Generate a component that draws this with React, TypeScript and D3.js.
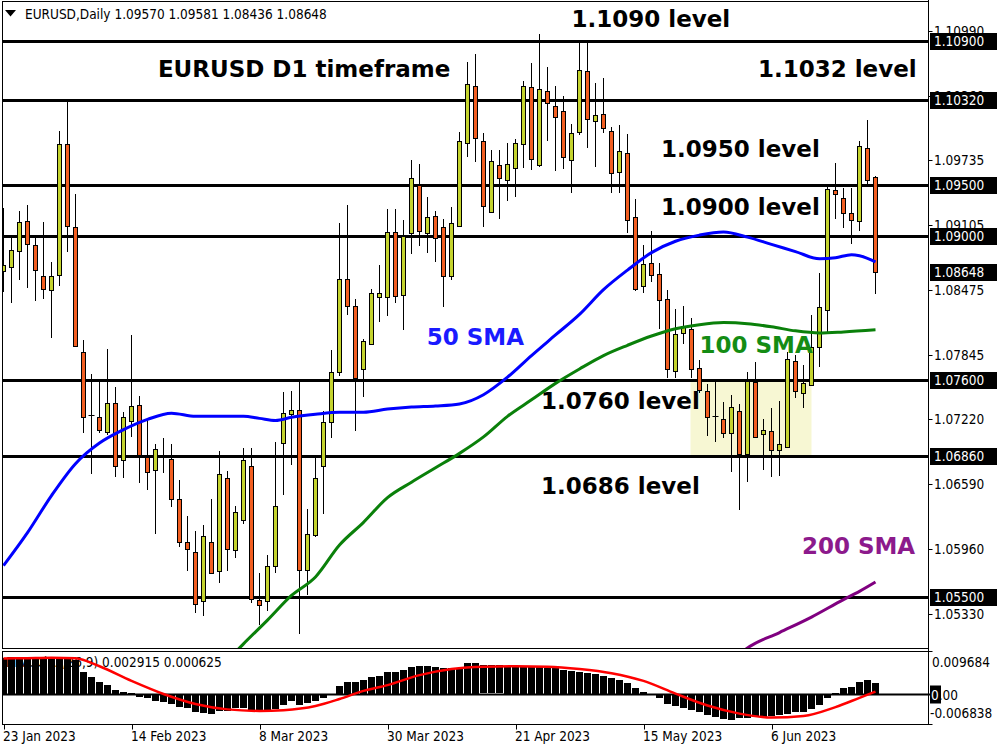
import React from "react";
import * as d3 from "d3";

// ---------------- data ----------------
const symbolTitle = "EURUSD,Daily";
const lastBarOHLC = ["1.09570", "1.09581", "1.08436", "1.08648"];
const macdTitle = "MACD(12,26,9) 0.002915 0.000625";

const opens = [
  1.0866, 1.087, 1.0886, 1.0915, 1.0891, 1.0861, 1.0848, 1.0862, 1.0989, 1.0909,
  1.0787, 1.0726, 1.0724, 1.071, 1.0738, 1.0683, 1.072, 1.0736, 1.0685, 1.0673,
  1.0685, 1.0684, 1.0645, 1.0603, 1.0593, 1.0546, 1.0603, 1.0575, 1.0665, 1.0595,
  1.0624, 1.0677, 1.0547, 1.0546, 1.058, 1.0699, 1.0727, 1.0731, 1.0576, 1.061,
  1.0677, 1.0719, 1.0768, 1.0858, 1.0832, 1.0771, 1.0795, 1.0841, 1.0841, 1.0904,
  1.0843, 1.0903, 1.095, 1.0903, 1.092, 1.0909, 1.0861, 1.091, 1.099, 1.1046,
  1.0992, 1.0923, 1.0969, 1.0955, 1.0966, 1.0989, 1.1045, 1.0969, 1.1041, 1.1026,
  1.1022, 1.0974, 1.1001, 1.106, 1.1012, 1.1019, 1.1002, 1.0962, 1.0981, 1.0919,
  1.0852, 1.0874, 1.0863, 1.0839, 1.0769, 1.0806, 1.081, 1.0772, 1.075, 1.0725,
  1.0722, 1.0709, 1.073, 1.0688, 1.0758, 1.0708, 1.0711, 1.0692, 1.0695, 1.0779,
  1.0748, 1.0755, 1.0792, 1.0828, 1.0945, 1.0937, 1.0922, 1.0915, 1.0986, 1.0957,
];
const highs = [
  1.0927, 1.0898, 1.0924, 1.093, 1.09, 1.0914, 1.0875, 1.1002, 1.1031, 1.0941,
  1.0799, 1.0766, 1.0759, 1.079, 1.0753, 1.0729, 1.0804, 1.0745, 1.0721, 1.0698,
  1.0704, 1.0698, 1.0663, 1.0628, 1.0614, 1.0619, 1.0645, 1.0691, 1.0672, 1.0638,
  1.0694, 1.0694, 1.0573, 1.059, 1.07, 1.0749, 1.075, 1.076, 1.0635, 1.0686,
  1.073, 1.0789, 1.0913, 1.093, 1.0839, 1.08, 1.0849, 1.0872, 1.0926, 1.0926,
  1.0916, 1.0974, 1.097, 1.0938, 1.0924, 1.0917, 1.0928, 1.1001, 1.1069, 1.1077,
  1.1, 1.0984, 1.0984, 1.099, 1.0994, 1.1051, 1.1068, 1.1096, 1.1064, 1.1046,
  1.1036, 1.1009, 1.1089, 1.1089, 1.1049, 1.1054, 1.1006, 1.1008, 1.0999, 1.0936,
  1.0891, 1.0905, 1.0874, 1.0848, 1.0829, 1.0832, 1.082, 1.078, 1.0756, 1.0759,
  1.0739, 1.0746, 1.0737, 1.0768, 1.0778, 1.0722, 1.0733, 1.074, 1.0787, 1.0785,
  1.0775, 1.0823, 1.0864, 1.095, 1.0971, 1.0947, 1.0947, 1.0992, 1.1013, 1.09581,
];
const lows = [
  1.0846, 1.0835, 1.0857, 1.085, 1.0837, 1.0839, 1.0801, 1.0852, 1.0885, 1.0792,
  1.0709, 1.0669, 1.0709, 1.0707, 1.0666, 1.0665, 1.0705, 1.066, 1.0653, 1.0611,
  1.067, 1.0637, 1.0598, 1.0575, 1.0534, 1.0531, 1.0572, 1.0563, 1.0575, 1.0587,
  1.062, 1.0544, 1.0522, 1.0536, 1.0573, 1.0649, 1.0678, 1.0514, 1.0551, 1.0608,
  1.063, 1.0704, 1.0764, 1.0823, 1.0711, 1.0744, 1.0794, 1.0817, 1.0822, 1.0835,
  1.0809, 1.0883, 1.089, 1.0884, 1.0875, 1.0831, 1.0857, 1.0909, 1.0977, 1.0972,
  1.0909, 1.0922, 1.0917, 1.0934, 1.0938, 1.0966, 1.0964, 1.0967, 1.0992, 1.0963,
  1.0965, 1.0942, 1.0998, 1.0986, 1.0967, 1.1, 1.0942, 1.0942, 1.0903, 1.0847,
  1.0845, 1.0855, 1.081, 1.0762, 1.0762, 1.0795, 1.0762, 1.0748, 1.0706, 1.07,
  1.0704, 1.0671, 1.0634, 1.0661, 1.0704, 1.0673, 1.0666, 1.0667, 1.0694, 1.0743,
  1.0733, 1.0754, 1.0773, 1.0807, 1.0917, 1.0908, 1.0892, 1.0905, 1.0949, 1.08436,
];
const closes = [
  1.0872, 1.0887, 1.0914, 1.0892, 1.0867, 1.0849, 1.0861, 1.0989, 1.091, 1.0793,
  1.0724, 1.0726, 1.0712, 1.0738, 1.0677, 1.0724, 1.0735, 1.0687, 1.0671, 1.0693,
  1.0685, 1.0645, 1.0603, 1.0596, 1.0543, 1.0609, 1.0573, 1.0669, 1.0596, 1.0632,
  1.0683, 1.0548, 1.0542, 1.058, 1.0638, 1.0728, 1.0731, 1.0576, 1.0611, 1.0665,
  1.0719, 1.0768, 1.0858, 1.0832, 1.0762, 1.0798, 1.0845, 1.0845, 1.0904, 1.0842,
  1.09, 1.0956, 1.0905, 1.0919, 1.0898, 1.0861, 1.0913, 1.0992, 1.1048, 1.0995,
  1.0929, 1.0973, 1.0956, 1.097, 1.099, 1.1046, 1.0975, 1.1043, 1.1029, 1.1016,
  1.0977, 1.1, 1.1061, 1.1014, 1.1018, 1.1005, 1.0961, 1.0983, 1.0916, 1.0849,
  1.0873, 1.0862, 1.0838, 1.0771, 1.0805, 1.0813, 1.0771, 1.0751, 1.0724, 1.0725,
  1.0709, 1.0734, 1.0688, 1.0759, 1.0705, 1.0712, 1.0692, 1.0698, 1.0781, 1.075,
  1.0757, 1.0792, 1.0831, 1.0946, 1.0941, 1.0922, 1.0916, 1.0988, 1.0955, 1.08648,
];

// moving averages: [bar index, value]
const sma50: [number, number][] = [
  [0, 1.058], [3, 1.0612], [6, 1.0648], [9, 1.0679], [12, 1.0699], [15, 1.0712], [18, 1.0722],
  [21, 1.0728], [24, 1.0725], [27, 1.0725], [30, 1.0725], [32, 1.0723], [34, 1.0721],
  [36, 1.0724], [39, 1.0727], [42, 1.0729], [45, 1.0729], [48, 1.0732], [51, 1.0734],
  [54, 1.0735], [57, 1.0737], [60, 1.0746], [63, 1.0763], [66, 1.0784], [69, 1.0804],
  [72, 1.0824], [75, 1.0848], [78, 1.0867], [81, 1.0884], [84, 1.0895], [87, 1.0901],
  [90, 1.0904], [93, 1.0899], [96, 1.0892], [99, 1.0885], [102, 1.0878], [104, 1.0879],
  [106, 1.0882], [107, 1.0881], [109, 1.0875],
];
const sma100: [number, number][] = [
  [28, 1.0488], [30, 1.0504], [33, 1.0527], [36, 1.0551], [39, 1.0569], [42, 1.06],
  [45, 1.0622], [48, 1.0646], [51, 1.0661], [54, 1.0675], [57, 1.0689], [60, 1.0705],
  [63, 1.0725], [66, 1.0741], [69, 1.0757], [72, 1.0771], [75, 1.0784], [78, 1.0794],
  [81, 1.0803], [84, 1.081], [87, 1.0814], [90, 1.0816], [93, 1.0815], [96, 1.0812],
  [99, 1.0808], [102, 1.0806], [105, 1.0807], [109, 1.0809],
];
const sma200: [number, number][] = [
  [92, 1.0494], [93, 1.05], [97, 1.0515], [101, 1.053], [105, 1.0547], [107, 1.0555], [109, 1.0564],
];

const macdMain = [
  0.0093, 0.0096, 0.0096, 0.0095, 0.0094, 0.0092, 0.0091, 0.0093, 0.009684, 0.0088,
  0.0058, 0.0043, 0.0031, 0.0023, 0.001, 0.0005, 0.0002, -0.0007, -0.0011, -0.0017,
  -0.002, -0.0025, -0.0033, -0.0037, -0.0048, -0.005, -0.0052, -0.0045, -0.0043, -0.0037,
  -0.0037, -0.0042, -0.0042, -0.0042, -0.0039, -0.0029, -0.0018, -0.0029, -0.0024, -0.0017,
  -0.001, -0.0003, 0.0021, 0.003, 0.003, 0.0036, 0.0043, 0.0046, 0.0056, 0.0056,
  0.0062, 0.0069, 0.0073, 0.0073, 0.0069, 0.0067, 0.0067, 0.0067, 0.008, 0.008,
  0.0074, 0.0074, 0.0074, 0.0071, 0.0071, 0.0072, 0.0071, 0.0071, 0.0068, 0.0067,
  0.0062, 0.006, 0.0058, 0.0054, 0.0051, 0.0048, 0.0041, 0.0036, 0.0028, 0.0015,
  0.0004, -0.0003, -0.0011, -0.0026, -0.003, -0.0037, -0.0042, -0.0048, -0.0055, -0.0059,
  -0.0066, -0.006838, -0.0062, -0.0062, -0.0059, -0.0059, -0.0057, -0.0055, -0.0053, -0.0048,
  -0.0046, -0.0039, -0.0029, -0.001, 0.0003, 0.0015, 0.0019, 0.003, 0.0036, 0.002915,
];
const macdSignal: [number, number][] = [
  [0, 0.0092], [3, 0.0093], [6, 0.0094], [9, 0.0093], [12, 0.0072], [16, 0.0034], [20, 0.0],
  [24, -0.0026], [28, -0.004], [32, -0.0044], [35, -0.0042], [39, -0.0031], [42, -0.0013],
  [45, 0.0008], [48, 0.0023], [52, 0.0049], [56, 0.0065], [60, 0.0071], [64, 0.0072],
  [68, 0.0071], [72, 0.0065], [76, 0.0054], [80, 0.0034], [84, 0.0001], [88, -0.003],
  [92, -0.0051], [96, -0.0061], [100, -0.0057], [104, -0.0034], [107, -0.001], [109, 0.000625],
];

const levels = [1.109, 1.1032, 1.095, 1.09, 1.076, 1.0686, 1.055];
const priceTicks = [1.1099, 1.1036, 1.09735, 1.09105, 1.08475, 1.07845, 1.0722, 1.0659, 1.0596, 1.0533];
const lastPrice = 1.08648;
const macdMax = 0.009684;
const macdMin = -0.006838;
const dateTicks: [number, string][] = [
  [0, "23 Jan 2023"], [16, "14 Feb 2023"], [32, "8 Mar 2023"], [48, "30 Mar 2023"],
  [64, "21 Apr 2023"], [80, "15 May 2023"], [96, "6 Jun 2023"],
];
const zoneBars: [number, number] = [86, 101];
const zonePrices: [number, number] = [1.076, 1.0686];

// annotation text anchored at (bar, price) of its baseline start
const annotations: { text: string; price: number; bar: number; color: string }[] = [
  { text: "1.1090 level", price: 1.11027, bar: 71, color: "#000" },
  { text: "EURUSD D1 timeframe", price: 1.10542, bar: 19.3, color: "#000" },
  { text: "1.1032 level", price: 1.10542, bar: 94.3, color: "#000" },
  { text: "1.0950 level", price: 1.09765, bar: 82.2, color: "#000" },
  { text: "1.0900 level", price: 1.09201, bar: 82.2, color: "#000" },
  { text: "50 SMA", price: 1.07939, bar: 52.9, color: "#1a1aff" },
  { text: "100 SMA", price: 1.07861, bar: 87, color: "#148c14" },
  { text: "1.0760 level", price: 1.07317, bar: 67.2, color: "#000" },
  { text: "1.0686 level", price: 1.06492, bar: 67.2, color: "#000" },
  { text: "200 SMA", price: 1.05909, bar: 99.8, color: "#8c1a8c" },
];

// ---------------- styles ----------------
const BULL = "#c4d32e";
const BEAR = "#f25e21";
const SMALL = "'DejaVu Sans Condensed','DejaVu Sans',sans-serif";
const BIG = "'DejaVu Sans',Verdana,sans-serif";

export default function App() {
  const x = d3.scaleLinear().domain([0, 109]).range([3.5, 875.5]);
  const y = d3.scaleLinear().domain([1.055, 1.109]).range([596.5, 40.5]);
  const ym = d3.scaleLinear().domain([macdMin, macdMax]).range([720.3, 656.7]);
  const px = (v: number) => Math.round(v) + 0.5;

  const maLine = d3
    .line<[number, number]>()
    .x((d) => x(d[0]))
    .y((d) => y(d[1]))
    .curve(d3.curveMonotoneX);
  const sigLine = d3
    .line<[number, number]>()
    .x((d) => x(d[0]))
    .y((d) => ym(d[1]))
    .curve(d3.curveMonotoneX);

  const left = 2.5;
  const right = 928.5;
  const mainTop = 1.5;
  const mainBottom = 648.5;
  const subTop = 651.5;
  const subBottom = 724.5;
  const zero = px(ym(0));

  return (
    <svg
      width={1000}
      height={750}
      style={{ position: "absolute", left: 0, top: 0, background: "#fff" }}
      xmlns="http://www.w3.org/2000/svg"
    >
      <defs>
        <clipPath id="mainClip">
          <rect x={3} y={2} width={925} height={646} />
        </clipPath>
        <clipPath id="subClip">
          <rect x={3} y={652} width={925} height={72} />
        </clipPath>
      </defs>
      <rect x={0} y={0} width={1000} height={750} fill="#fff" />

      {/* ---- main panel ---- */}
      <g clipPath="url(#mainClip)">
        <rect
          x={x(zoneBars[0]) - 1}
          y={y(zonePrices[0])}
          width={x(zoneBars[1]) - x(zoneBars[0]) + 1}
          height={y(zonePrices[1]) - y(zonePrices[0])}
          fill="#f7f7d3"
        />
        {levels.map((lv) => (
          <line key={lv} x1={left} x2={932} y1={px(y(lv))} y2={px(y(lv))} stroke="#000" strokeWidth={3} />
        ))}
        {opens.map((o, i) => {
          const c = closes[i];
          const cx = x(i);
          const top = px(y(Math.max(o, c)));
          const bot = px(y(Math.min(o, c)));
          const fill = c > o ? BULL : BEAR;
          return (
            <g key={i}>
              <line x1={cx} x2={cx} y1={Math.round(y(highs[i]))} y2={Math.round(y(lows[i]))} stroke="#000" strokeWidth={1} />
              {c === o ? (
                <line x1={cx - 3} x2={cx + 3} y1={top} y2={top} stroke="#000" strokeWidth={1} />
              ) : (
                <rect x={cx - 2} y={top} width={4} height={Math.max(bot - top, 1)} fill={fill} stroke="#000" strokeWidth={1} />
              )}
            </g>
          );
        })}
        <path d={maLine(sma200) || ""} fill="none" stroke="#800080" strokeWidth={3} />
        <path d={maLine(sma100) || ""} fill="none" stroke="#0a800a" strokeWidth={3} />
        <path d={maLine(sma50) || ""} fill="none" stroke="#0000ff" strokeWidth={3} />
        {annotations.map((a) => (
          <text
            key={a.text}
            x={x(a.bar)}
            y={y(a.price)}
            fontFamily={BIG}
            fontWeight="bold"
            fontSize={23}
            fill={a.color}
          >
            {a.text}
          </text>
        ))}
        <path d="M5,10 L16,10 L10.5,16.5 Z" fill="#000" />
        <text x={25} y={19} fontFamily={SMALL} fontSize={13.5} fill="#000">
          {symbolTitle + "  " + lastBarOHLC.join(" ")}
        </text>
      </g>
      <rect x={left} y={mainTop} width={right - left} height={mainBottom - mainTop} fill="none" stroke="#000" strokeWidth={1} />

      {/* ---- price axis ---- */}
      <line x1={right} x2={right} y1={0} y2={subBottom} stroke="#000" strokeWidth={1} />
      {priceTicks.map((t) => (
        <g key={t}>
          <line x1={right} x2={right + 4} y1={px(y(t))} y2={px(y(t))} stroke="#000" />
          <text x={934} y={y(t) + 5} fontFamily={SMALL} fontSize={13.5} fill="#000">
            {t.toFixed(5)}
          </text>
        </g>
      ))}
      {[...levels, lastPrice].map((lv) => (
        <g key={"b" + lv}>
          <rect x={930} y={Math.round(y(lv)) - 8} width={67} height={17} fill="#000" />
          <text x={934} y={y(lv) + 5} fontFamily={SMALL} fontSize={13.5} fill="#fff">
            {lv.toFixed(5)}
          </text>
        </g>
      ))}

      {/* ---- MACD panel ---- */}
      <text x={6} y={667} fontFamily={SMALL} fontSize={13.5} fill="#000">
        {macdTitle}
      </text>
      <g clipPath="url(#subClip)">
        {macdMain.map((v, i) => {
          const y0 = ym(0);
          const y1 = ym(v);
          return (
            <rect
              key={i}
              x={x(i) - 3.5}
              y={Math.round(Math.min(y0, y1))}
              width={7}
              height={Math.max(1, Math.round(Math.abs(y1 - y0)))}
              fill="#000"
            />
          );
        })}
        <line x1={left} x2={right} y1={zero} y2={zero} stroke="#000" strokeWidth={2} />
        <path d={sigLine(macdSignal) || ""} fill="none" stroke="#ff0000" strokeWidth={2.5} />
      </g>
      <line x1={right} x2={940} y1={zero} y2={zero} stroke="#000" strokeWidth={2} />
      <rect x={left} y={subTop} width={right - left} height={subBottom - subTop} fill="none" stroke="#000" strokeWidth={1} />
      <line x1={right} x2={right + 4} y1={subTop} y2={subTop} stroke="#000" />
      <line x1={right} x2={right + 4} y1={subBottom} y2={subBottom} stroke="#000" />
      <text x={932} y={667} fontFamily={SMALL} fontSize={13.5} fill="#000">
        {macdMax.toFixed(6)}
      </text>
      <rect x={930} y={zero - 9} width={11} height={18} fill="#000" />
      <text x={931} y={zero + 5} fontFamily={SMALL} fontSize={13.5} fill="#000">
        <tspan fill="#fff">0</tspan>.00
      </text>
      <text x={930} y={718} fontFamily={SMALL} fontSize={13.5} fill="#000">
        {macdMin.toFixed(6)}
      </text>

      {/* ---- time axis ---- */}
      {dateTicks.map(([i, label]) => (
        <g key={label}>
          <line x1={px(x(i))} x2={px(x(i))} y1={subBottom} y2={subBottom + 5} stroke="#000" />
          <text x={x(i) - 0.5} y={741} fontFamily={SMALL} fontSize={13.5} fill="#000">
            {label}
          </text>
        </g>
      ))}
    </svg>
  );
}
